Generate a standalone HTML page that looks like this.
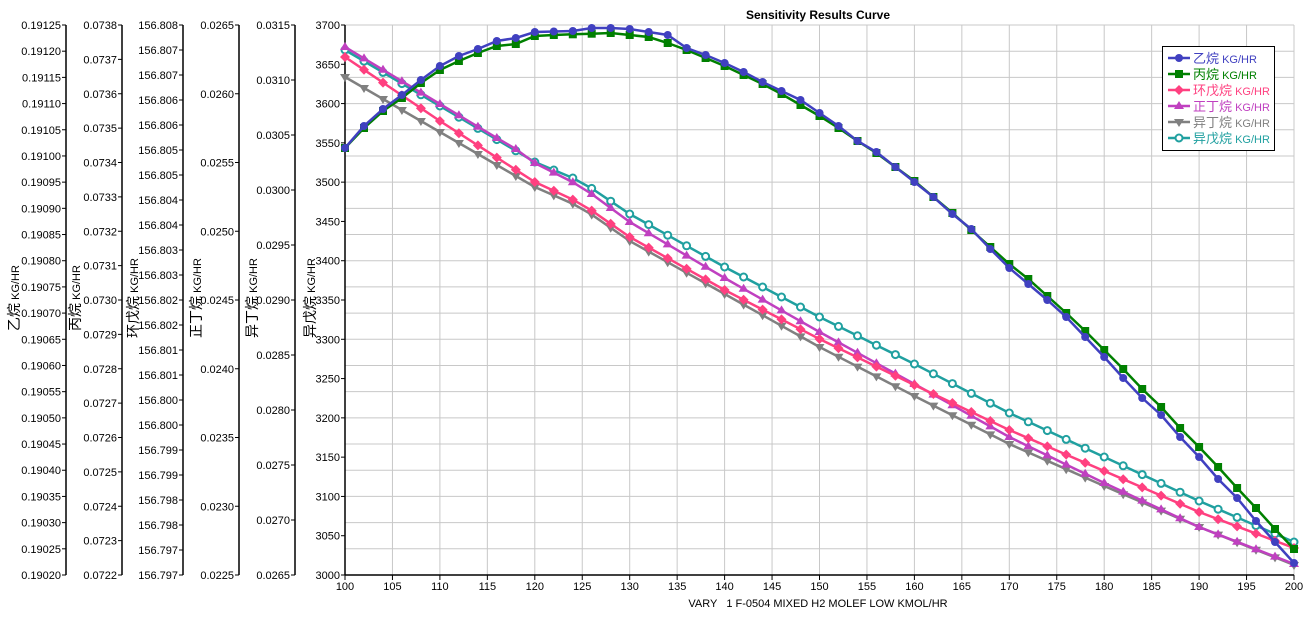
<!DOCTYPE html>
<html><head><meta charset="utf-8"><style>
html,body{margin:0;padding:0;background:#fff;}
svg{display:block;font-family:"Liberation Sans","Noto Sans CJK SC",sans-serif;}
</style></head><body>
<svg id="c" width="1309" height="617" xmlns="http://www.w3.org/2000/svg"></svg>
<script>
const S=document.getElementById('c');let h='';
const L=345,R=1294,T=25,B=575;
const X=v=>L+(v-100)*(R-L)/100;
for(let i=0;i<=21;i++){const y=B-i*(B-T)/21;h+=`<line x1="${L}" x2="${R}" y1="${y}" y2="${y}" stroke="#c8c8c8" stroke-width="1"/>`;}
for(let v=105;v<=200;v+=5){h+=`<line x1="${X(v)}" x2="${X(v)}" y1="${T}" y2="${B}" stroke="#c8c8c8" stroke-width="1"/>`;}
h+=`<line x1="${L}" x2="${R}" y1="${B}" y2="${B}" stroke="#000" stroke-width="1.5"/>`;
for(let v=100;v<=200;v+=5){h+=`<line x1="${X(v)}" x2="${X(v)}" y1="${B}" y2="${B+5}" stroke="#000"/><text x="${X(v)}" y="${B+15}" font-size="11" text-anchor="middle">${v}</text>`;}
h+=`<text x="818" y="607" font-size="11" text-anchor="middle" xml:space="preserve">VARY   1 F-0504 MIXED H2 MOLEF LOW KMOL/HR</text>`;
h+=`<text x="818" y="19" font-size="12" font-weight="bold" text-anchor="middle">Sensitivity Results Curve</text>`;
function axis(x,labels,title,tx){
 h+=`<line x1="${x}" x2="${x}" y1="${T}" y2="${B}" stroke="#000" stroke-width="1.5"/>`;
 const n=labels.length-1;
 labels.forEach((s,i)=>{const y=B-i*(B-T)/n;h+=`<line x1="${x-4}" x2="${x}" y1="${y}" y2="${y}" stroke="#000"/><text x="${x-5}" y="${y+4}" font-size="11" text-anchor="end">${s}</text>`;});
 h+=`<text transform="translate(${tx},298) rotate(-90)" text-anchor="middle" font-size="14">${title}<tspan font-size="11"> KG/HR</tspan></text>`;
}
let a=[];for(let i=0;i<=21;i++)a.push((0.19020+i*0.00005).toFixed(5));axis(66,a,'乙烷',19);
a=[];for(let i=0;i<=16;i++)a.push((0.0722+i*0.0001).toFixed(4));axis(122,a,'丙烷',80);
a=['156.797','156.797','156.798','156.798','156.799','156.799','156.800','156.800','156.801','156.801','156.802','156.802','156.803','156.803','156.804','156.804','156.805','156.805','156.806','156.806','156.807','156.807','156.808'];axis(183,a,'环戊烷',138);
a=[];for(let i=0;i<=8;i++)a.push((0.0225+i*0.0005).toFixed(4));axis(239,a,'正丁烷',201);
a=[];for(let i=0;i<=10;i++)a.push((0.0265+i*0.0005).toFixed(4));axis(295,a,'异丁烷',257);
a=[];for(let i=0;i<=14;i++)a.push(3000+i*50);axis(345,a,'异戊烷',315);
function interp(anch,v){for(let i=0;i<anch.length-1;i++){const[a0,y0]=anch[i],[a1,y1]=anch[i+1];if(v>=a0&&v<=a1)return y0+(y1-y0)*(v-a0)/(a1-a0);}return anch[anch.length-1][1];}
function P(o){return Object.entries(o).map(([k,v])=>[+k,v]);}
const ser=[
{c:'#4040c0',m:'circle',a:P({100:148,102:126,104:109,106:95,108:80,110:66,112:56,114:49,116:41,118:38,120:32,124:31,126:28,128:28,130:29,132:32,134:35,136:48,138:55,140:63,142:72,144:82,146:91,148:100,150:113,152:126,154:141,156:152,158:167,160:182,162:197,164:214,166:229,168:249,170:268,172:284,174:300,176:317,178:337,180:357,182:378,184:398,186:415,188:437,190:457,192:479,194:498,196:521,198:542,200:563})},
{c:'#008000',m:'square',a:P({100:148,102:128,104:111,106:98,108:83,110:70,112:61,114:53,116:46,118:44,120:36,122:35,128:33,130:35,132:37,134:43,136:50,138:58,140:66,142:75,144:84,146:94,148:105,150:116,152:128,154:141,156:153,158:167,160:181,162:197,164:213,166:230,168:247,170:264,172:279,174:296,176:313,178:331,180:350,182:369,184:389,186:407,188:428,190:447,192:467,194:488,196:508,198:529,200:549})},
{c:'#ff4080',m:'diamond',a:P({100:57,110:121,120:182,125:204,130:237,140:290,150:339,160:385,170:430,180:471,190:512,200:548})},
{c:'#c040c0',m:'up',a:P({100:47,110:104,116:138,118:149,120:163,125:187,130:222,140:278,150:332,160:384,170:437,180:483,190:527,200:564})},
{c:'#808080',m:'down',a:P({100:77,110:132,120:187,125:208,130:241,140:294,150:347,160:396,170:444,180:486,190:527,200:565})},
{c:'#20a0a0',m:'open',a:P({100:50,110:106,120:162,125:182,130:214,140:267,150:317,160:364,170:413,180:457,190:501,200:542})}
];
function mk(m,x,y,c){
 if(m=='circle')return `<circle cx="${x}" cy="${y}" r="4" fill="${c}"/>`;
 if(m=='square')return `<rect x="${x-4}" y="${y-4}" width="8" height="8" fill="${c}"/>`;
 if(m=='diamond')return `<polygon points="${x},${y-5} ${x+5},${y} ${x},${y+5} ${x-5},${y}" fill="${c}"/>`;
 if(m=='up')return `<polygon points="${x},${y-5} ${x+5},${y+3} ${x-5},${y+3}" fill="${c}"/>`;
 if(m=='down')return `<polygon points="${x},${y+5} ${x+5},${y-3} ${x-5},${y-3}" fill="${c}"/>`;
 return `<circle cx="${x}" cy="${y}" r="3.5" fill="#fff" stroke="${c}" stroke-width="2"/>`;
}
const order=[5,4,3,2,1,0];
for(const k of order){const s=ser[k];let pts=[],mks='';
 for(let v=100;v<=200;v+=2){const x=X(v).toFixed(1),y=interp(s.a,v).toFixed(1);pts.push(x+','+y);mks+=mk(s.m,+x,+y,s.c);}
 h+=`<polyline points="${pts.join(' ')}" fill="none" stroke="${s.c}" stroke-width="2.5"/>`+mks;}
h+=`<rect x="1162.5" y="46.5" width="112" height="104" fill="#fff" stroke="#000" stroke-width="1"/>`;
const names=['乙烷','丙烷','环戊烷','正丁烷','异丁烷','异戊烷'];
names.forEach((n,i)=>{const y=58+i*16,c=ser[i].c;
 h+=`<line x1="1168" x2="1190" y1="${y}" y2="${y}" stroke="${c}" stroke-width="2.5"/>`+mk(ser[i].m,1179,y,c);
 h+=`<text x="1193" y="${y+5}" font-size="13" fill="${c}">${n}<tspan font-size="11"> KG/HR</tspan></text>`;});
S.innerHTML=h;
</script>
</body></html>
